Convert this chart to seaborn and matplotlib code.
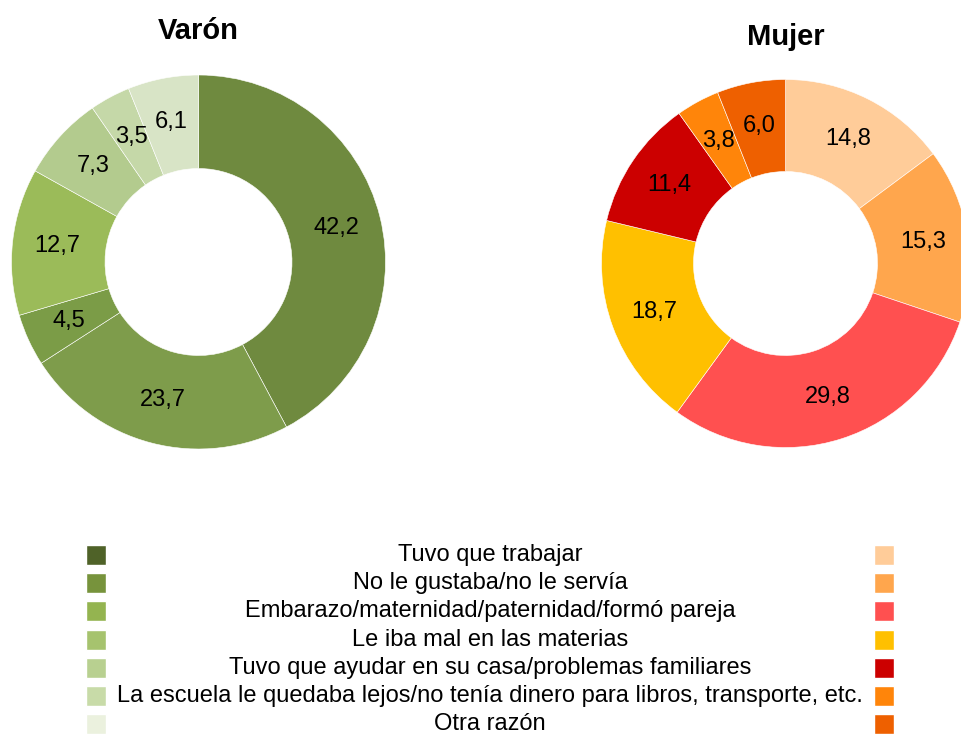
import numpy as np
import matplotlib
matplotlib.use("Agg")
import matplotlib.pyplot as plt
import seaborn as sns

# ---------------- DATA ---------------- #

reasons = [
    "Tuvo que trabajar",
    "No le gustaba/no le servía",
    "Embarazo/maternidad/paternidad/formó pareja",
    "Le iba mal en las materias",
    "Tuvo que ayudar en su casa/problemas familiares",
    "La escuela le quedaba lejos/no tenía dinero para libros, transporte, etc.",
    "Otra razón",
]
varon_values = [42.2, 23.7, 4.5, 12.7, 7.3, 3.5, 6.1]
mujer_values = [14.8, 15.3, 29.8, 18.7, 11.4, 3.8, 6.0]

# ---------------- STYLE ---------------- #

sns.set_style("white")
plt.rcParams["font.family"] = ["Liberation Sans", "DejaVu Sans"]
plt.rcParams["text.color"] = "black"

varon_colors = sns.color_palette(["#6f8a3f", "#7e9c4b", "#7b9c47", "#9bbb59",
                                  "#b3cb8e", "#c5d8a8", "#d8e4c6"])
varon_legend_colors = sns.color_palette(["#4f6228", "#77933c", "#94b450", "#a6c36e",
                                         "#b8d090", "#c8dba8", "#ebf1de"])
mujer_colors = sns.color_palette(["#ffcc99", "#ffa64d", "#ff5050", "#ffc000",
                                  "#cc0000", "#ff850a", "#ee6000"])

W, H = 961, 734
fig = plt.figure(figsize=(W / 100, H / 100), dpi=100)


def donut(rect, values, colors, title, title_y):
    # rect is (cx, cy, r) in pixels, y measured from the top
    cx, cy, r = rect
    ax = fig.add_axes([(cx - r) / W, (H - cy - r) / H, 2 * r / W, 2 * r / H])
    wedges, _ = ax.pie(values, colors=colors, startangle=90, counterclock=False,
                       radius=1.0,
                       wedgeprops=dict(width=0.5, edgecolor="white", linewidth=0.4))
    ax.set_xlim(-1, 1)
    ax.set_ylim(-1, 1)
    ax.axis("off")
    for w, v in zip(wedges, values):
        ang = np.deg2rad((w.theta1 + w.theta2) / 2)
        ax.text(0.76 * np.cos(ang), 0.76 * np.sin(ang), f"{v:.1f}".replace(".", ","),
                ha="center", va="center", fontsize=17, color="black")
    fig.text(cx / W, 1 - title_y / H, title, ha="center", va="baseline",
             fontsize=21, fontweight="bold", color="black")
    return ax


donut((198.5, 262, 187), varon_values, varon_colors, "Varón", 39)
donut((785.5, 263.5, 184), mujer_values, mujer_colors, "Mujer", 45)

# ---------------- LEGEND ---------------- #

leg = fig.add_axes([0, 0, 1, 1])
leg.set_xlim(0, W)
leg.set_ylim(H, 0)
leg.axis("off")
rows = 555 + 28.2 * np.arange(len(reasons))
leg.barh(rows, 20, left=86, height=20, color=varon_legend_colors)
leg.barh(rows, 20, left=874, height=20, color=mujer_colors)
for y, label in zip(rows, reasons):
    leg.text(490, y, label, ha="center", va="center", fontsize=17, color="black")

fig.savefig("out.png", dpi=100)
